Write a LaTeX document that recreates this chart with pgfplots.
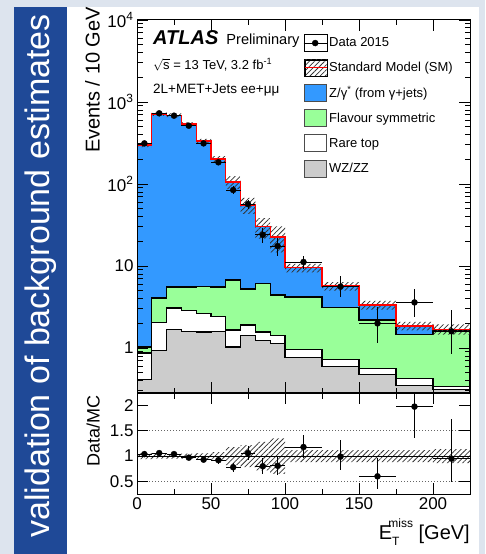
\documentclass[border=0pt]{standalone}
\usepackage{fontspec}
\setmainfont{Liberation Sans}
\usepackage{pgfplots}
\pgfplotsset{compat=1.18}
\usepackage{pgfplotstable}
\usetikzlibrary{patterns.meta}

\definecolor{bgl}{RGB}{221,228,238}
\definecolor{banner}{RGB}{31,73,151}
\definecolor{zblue}{RGB}{51,153,255}
\definecolor{fsgreen}{RGB}{153,255,153}
\definecolor{wzgrey}{RGB}{204,204,204}

% Stacked MC (cumulative levels), per 10 GeV
\pgfplotstableread{
x grey white green total
0 0.41 0.87 1.03 299
10 0.93 2.07 4.07 714
20 1.68 3.08 5.55 690
30 1.61 2.90 5.55 540
40 1.57 2.67 5.60 334
50 1.61 2.45 5.55 202
60 1.03 1.66 6.75 106
70 1.44 1.91 5.25 55.5
80 1.25 1.57 6.20 30
90 1.15 1.44 4.43 22.6
100 0.76 0.95 4.19 9.5
125 0.60 0.73 3.16 5.7
150 0.47 0.57 2.20 3.35
175 0.35 0.43 1.48 1.86
200 0.31 0.34 1.62 1.70
225 0.31 0.34 1.62 1.70
}\mc

% Data 2015 and Data/MC ratio
\pgfplotstableread{
x ex y eyp eym r erp erm
5 5 313 17.7 17.7 1.04 0.06 0.06
15 5 728 27 27 1.06 0.04 0.04
25 5 681 26 26 1.04 0.04 0.04
35 5 514 22.7 22.7 0.97 0.045 0.045
45 5 313 17.7 17.7 0.93 0.05 0.05
55 5 184 13.6 13.6 0.92 0.07 0.07
65 5 84.5 9.2 9.2 0.78 0.085 0.085
75 5 57 7.5 7.5 1.06 0.14 0.14
85 5 24 4.9 4.9 0.80 0.16 0.16
95 5 17.5 4.2 4.2 0.81 0.19 0.19
112.5 12.5 11.2 2.1 2.1 1.18 0.24 0.22
137.5 12.5 5.6 1.9 1.45 0.99 0.33 0.27
162.5 12.5 2.0 1.2 0.85 0.60 0.36 0.25
187.5 12.5 3.6 1.6 1.2 1.98 0.87 0.63
212.5 12.5 1.6 1.3 0.75 0.95 0.78 0.46
}\data

\tikzset{hatchp/.style={pattern={Lines[angle=45,distance=3.6pt,line width=0.75pt]}, pattern color=black!80}}

\begin{document}
\begin{tikzpicture}
\fill[bgl] (0pt,0pt) rectangle (485pt,554pt);
\fill[white] (67pt,0pt) rectangle (479pt,547pt);
\fill[banner] (14pt,0pt) rectangle (67pt,547pt);
\node[rotate=90, text=white, font=\fontsize{34}{39}\selectfont, inner sep=0pt] at (41pt,278pt) {validation of background estimates};

\begin{axis}[
  at={(137pt,161pt)}, anchor=south west, scale only axis,
  width=333pt, height=373pt,
  xmin=0, xmax=225, ymode=log, ymin=0.283, ymax=10000, log origin y=infty,
  xtick={0,50,100,150,200}, minor xtick={25,75,125,175}, xticklabels={},
  ytick={1,10,100,1000,10000},
  yticklabels={1,10,10\textsuperscript{2},10\textsuperscript{3},10\textsuperscript{4}},
  minor ytick={0.3,0.4,0.5,0.6,0.7,0.8,0.9,2,3,4,5,6,7,8,9,20,30,40,50,60,70,80,90,200,300,400,500,600,700,800,900,2000,3000,4000,5000,6000,7000,8000,9000},
  tick align=inside, tick pos=both,
  major tick length=11pt, minor tick length=5.5pt,
  axis line style={line width=1pt},
  every tick/.style={black, line width=0.9pt},
  tick label style={font=\fontsize{17}{20}\selectfont},
  ylabel={Events / 10 GeV},
  ylabel style={at={(axis description cs:-0.111,1.035)}, anchor=south east, inner sep=0pt, font=\fontsize{20}{24}\selectfont},
  axis on top,
  legend style={at={(rel axis cs:0.4985,0.962)}, anchor=north west, draw=none, fill=none,
    inner sep=0pt, row sep=7.3pt, font=\fontsize{13}{15}\selectfont, nodes={inner sep=2pt}},
  legend cell align=left,
]
\addlegendimage{legend image code/.code={\path (0pt,-8.5pt) rectangle (23pt,8.5pt); \draw[black, line width=1pt] (0pt,0pt) -- (23pt,0pt); \draw[black, fill=black, mark=*, mark size=3pt] plot coordinates {(11.5pt,0pt)};}}
\addlegendentry{Data 2015}
\addlegendimage{legend image code/.code={\path (0pt,-8.5pt) rectangle (23pt,8.5pt); \fill[hatchp] (1pt,-8pt) rectangle (23pt,8pt); \draw[red, line width=1pt] (1pt,0pt) -- (23pt,0pt);}}
\addlegendentry{Standard Model (SM)}
\addlegendimage{legend image code/.code={\draw[fill=zblue, draw=black!70, line width=1pt] (1pt,-8.5pt) rectangle (23pt,8.5pt);}}
\addlegendentry{Z/γ\textsuperscript{*} (from γ+jets)}
\addlegendimage{legend image code/.code={\draw[fill=fsgreen, draw=black!70, line width=1pt] (1pt,-8.5pt) rectangle (23pt,8.5pt);}}
\addlegendentry{Flavour symmetric}
\addlegendimage{legend image code/.code={\draw[fill=white, draw=black!70, line width=1pt] (1pt,-8.5pt) rectangle (23pt,8.5pt);}}
\addlegendentry{Rare top}
\addlegendimage{legend image code/.code={\draw[fill=wzgrey, draw=black!70, line width=1pt] (1pt,-8.5pt) rectangle (23pt,8.5pt);}}
\addlegendentry{WZ/ZZ}

\addplot[const plot, fill=zblue, draw=none, forget plot] table[x=x, y=total] {\mc} \closedcycle;
\addplot[const plot, fill=fsgreen, draw=black, line width=1.1pt, forget plot] table[x=x, y=green] {\mc} \closedcycle;
\addplot[const plot, fill=white, draw=black, line width=1.1pt, forget plot] table[x=x, y=white] {\mc} \closedcycle;
\addplot[const plot, fill=wzgrey, draw=black, line width=1.1pt, forget plot] table[x=x, y=grey] {\mc} \closedcycle;

% SM uncertainty band (upper edge left to right, lower edge back)
\addplot[hatchp, draw=none, forget plot] coordinates {
(0,316.9)(10,316.9)(10,749.7)(20,749.7)(20,724.5)(30,724.5)(30,567)(40,567)(40,354)(50,354)
(50,218.2)(60,218.2)(60,125.1)(70,125.1)(70,67.7)(80,67.7)(80,38.4)(90,38.4)(90,30.5)(100,30.5)
(100,10.64)(125,10.64)(125,6.38)(150,6.38)(150,3.75)(175,3.75)(175,2.08)(200,2.08)(200,1.94)(225,1.94)
(225,1.46)(200,1.46)(200,1.64)(175,1.64)(175,2.95)(150,2.95)(150,5.02)(125,5.02)(125,8.36)(100,8.36)
(100,14.7)(90,14.7)(90,21.6)(80,21.6)(80,43.3)(70,43.3)(70,86.9)(60,86.9)(60,185.8)(50,185.8)
(50,314)(40,314)(40,513)(30,513)(30,655.5)(20,655.5)(20,678.3)(10,678.3)(10,281.1)(0,281.1)} -- cycle;

\addplot[const plot, red, line width=1.2pt, forget plot] table[x=x, y=total] {\mc};

\addplot[only marks, mark=*, mark size=3pt, black, forget plot,
  error bars/.cd, x dir=both, x explicit, y dir=both, y explicit,
  error bar style={line width=0.9pt}, error mark=none]
  table[x=x, y=y, x error=ex, y error plus=eyp, y error minus=eym] {\data};

\node[anchor=base west, inner sep=0pt] at (rel axis cs:0.048,0.933)
  {\fontsize{20}{22}\selectfont\bfseries\itshape ATLAS};
\node[anchor=base west, inner sep=0pt] at (rel axis cs:0.268,0.933)
  {\fontsize{14.6}{18}\selectfont Preliminary};
\node[anchor=base west, inner sep=0pt] at (rel axis cs:0.048,0.868)
  {\fontsize{13}{15}\selectfont $\sqrt{\mbox{s}}$ = 13 TeV, 3.2 fb\textsuperscript{-1}};
\node[anchor=base west, inner sep=0pt] at (rel axis cs:0.048,0.802)
  {\fontsize{13.5}{16}\selectfont 2L+MET+Jets ee+μμ};
\end{axis}

\begin{axis}[
  at={(137pt,60pt)}, anchor=south west, scale only axis,
  width=333pt, height=101pt,
  xmin=0, xmax=225, ymin=0.25, ymax=2.25,
  xtick={0,50,100,150,200}, xticklabels={0,50,100,150,200},
  minor xtick={25,75,125,175},
  ytick={0.5,1,1.5,2}, yticklabels={0.5,1,1.5,2},
  tick align=inside, tick pos=both,
  major tick length=11pt, minor tick length=5.5pt,
  axis line style={line width=1pt},
  every tick/.style={black, line width=0.9pt},
  tick label style={font=\fontsize{17}{20}\selectfont},
  ylabel={Data/MC},
  ylabel style={at={(axis description cs:-0.111,0.98)}, anchor=south east, inner sep=0pt, font=\fontsize{18}{22}\selectfont},
  xlabel={E\raisebox{-0.3em}{\fontsize{12}{12}\selectfont T}\hspace{-0.55em}\raisebox{0.6em}{\fontsize{12}{12}\selectfont miss} [GeV]},
  xlabel style={at={(axis description cs:1,0)}, anchor=north east, yshift=-25pt, inner sep=0pt, font=\fontsize{20}{24}\selectfont},
  axis on top,
]
\addplot[hatchp, draw=none] coordinates {
(0,1.06)(10,1.06)(10,1.05)(40,1.05)(40,1.06)(50,1.06)(50,1.08)(60,1.08)(60,1.18)(70,1.18)
(70,1.22)(80,1.22)(80,1.28)(90,1.28)(90,1.35)(100,1.35)(100,1.12)(200,1.12)(200,1.14)(225,1.14)
(225,0.86)(200,0.86)(200,0.88)(100,0.88)(100,0.65)(90,0.65)(90,0.72)(80,0.72)(80,0.78)(70,0.78)
(70,0.82)(60,0.82)(60,0.92)(50,0.92)(50,0.94)(40,0.94)(40,0.95)(10,0.95)(10,0.94)(0,0.94)} -- cycle;
\addplot[black, line width=0.8pt] coordinates {(0,1) (225,1)};
\addplot[black!60, dotted, line width=1pt] coordinates {(0,0.5) (225,0.5)};
\addplot[black!60, dotted, line width=1pt] coordinates {(0,1.5) (225,1.5)};
\addplot[only marks, mark=*, mark size=3pt, black,
  error bars/.cd, x dir=both, x explicit, y dir=both, y explicit,
  error bar style={line width=0.9pt}, error mark=none]
  table[x=x, y=r, x error=ex, y error plus=erp, y error minus=erm] {\data};
\end{axis}
\pgfresetboundingbox
\useasboundingbox (0pt,0pt) rectangle (485pt,554pt);
\end{tikzpicture}
\end{document}
